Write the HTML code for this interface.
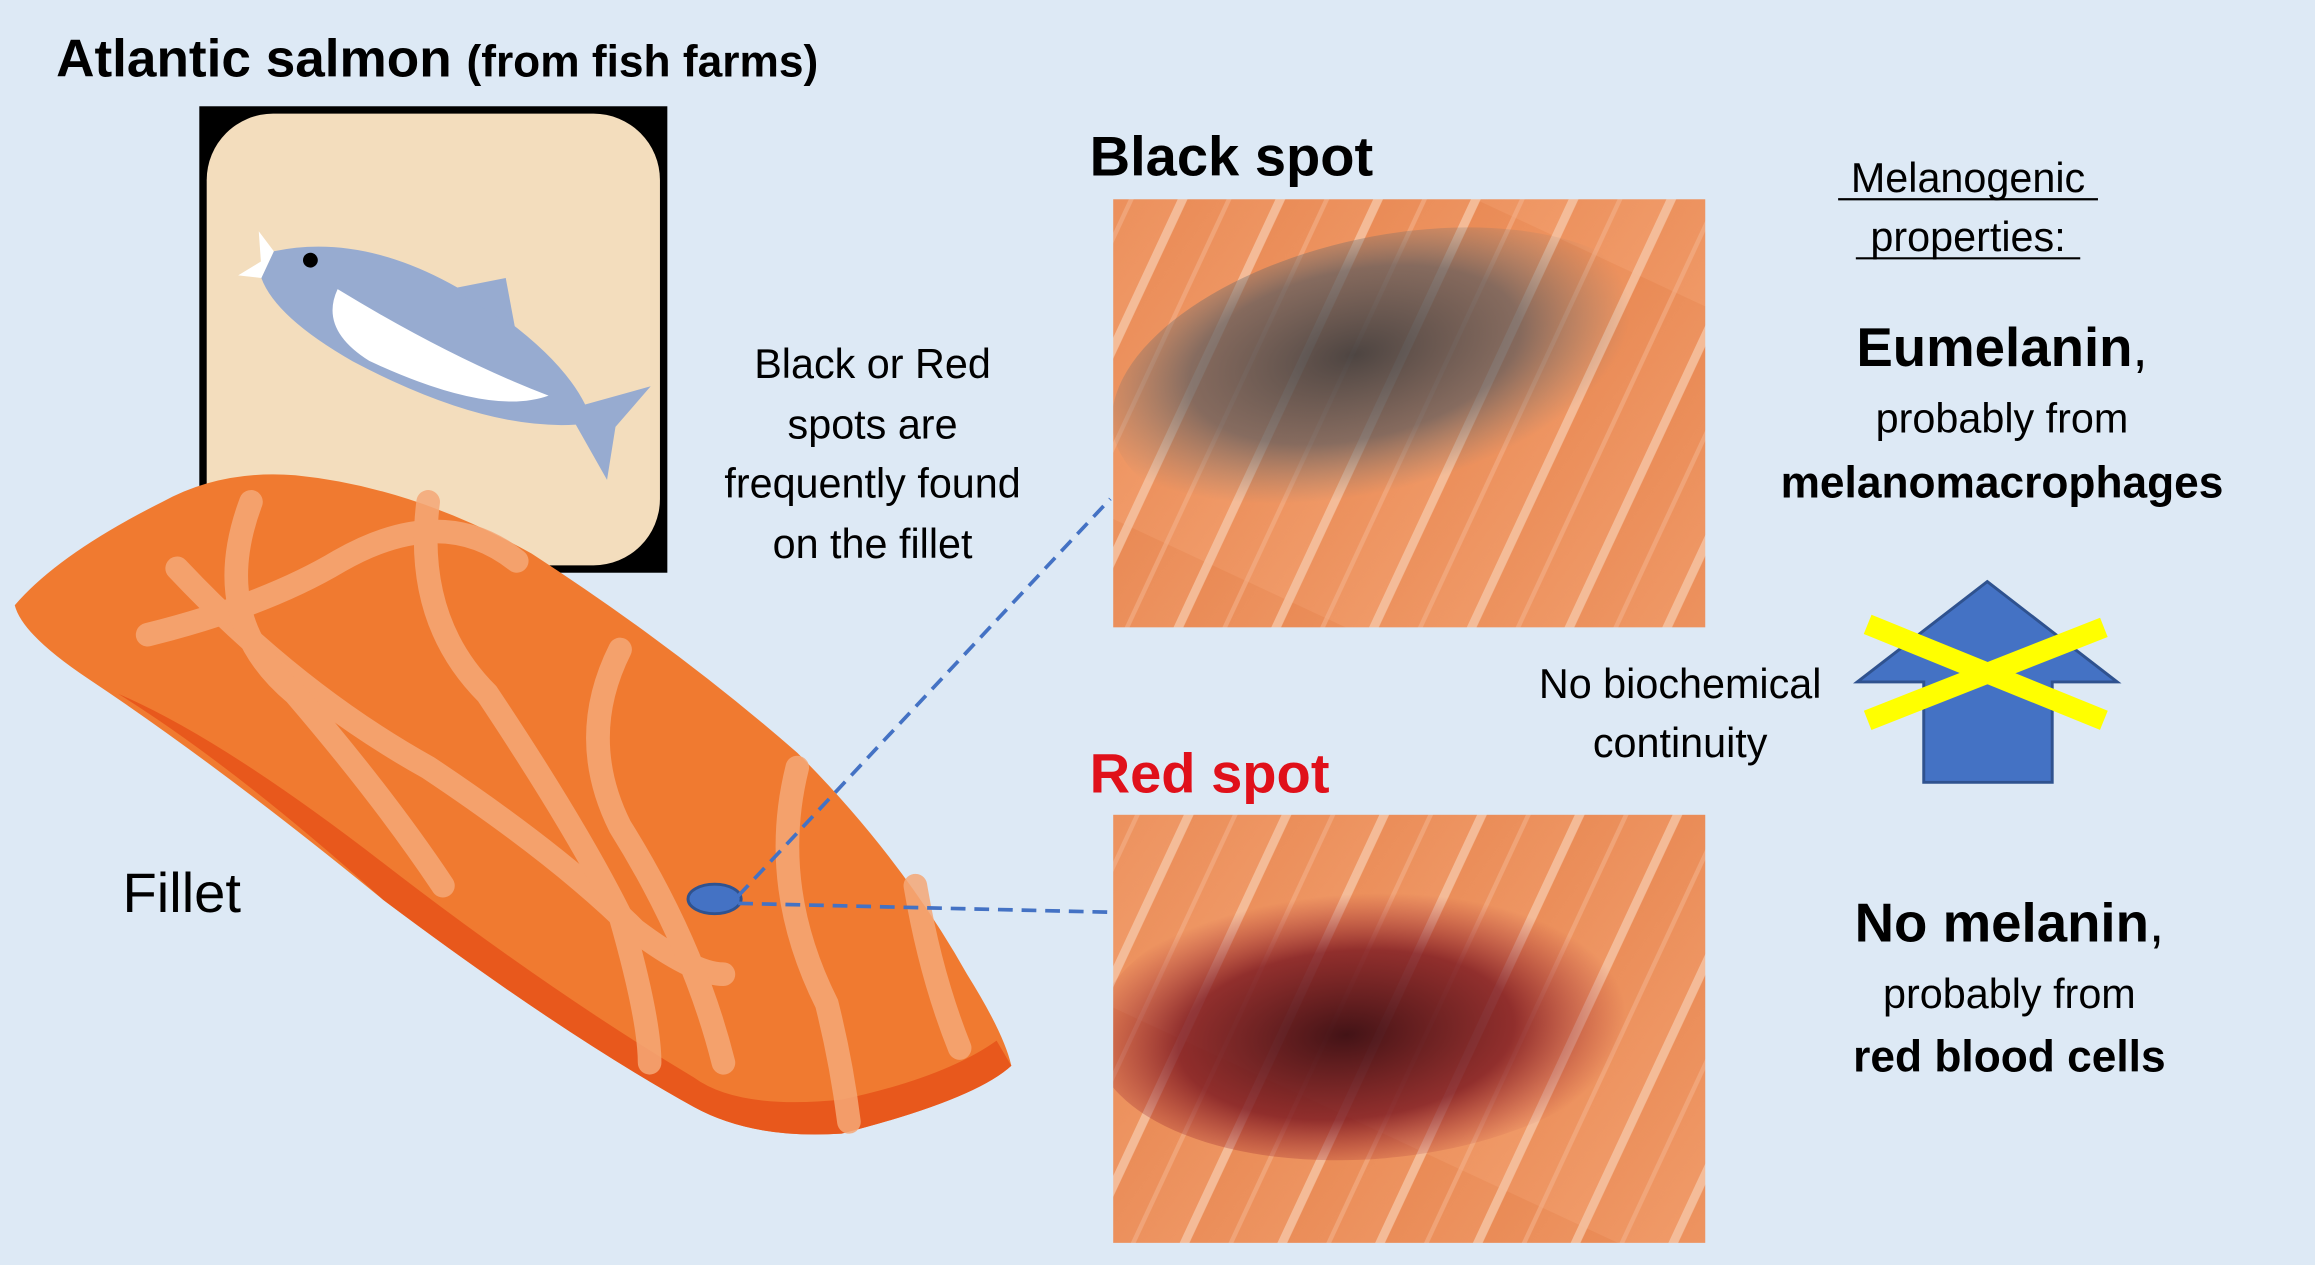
<!DOCTYPE html>
<html><head><meta charset="utf-8"><style>
html,body{margin:0;padding:0;background:#dde9f5;}
svg{display:block;}
text{font-family:"Liberation Sans",sans-serif;}
</style></head><body>
<svg width="2315" height="1265" viewBox="0 0 1568 857" preserveAspectRatio="none" xmlns="http://www.w3.org/2000/svg">
<defs>
<linearGradient id="sal" x1="0" y1="0" x2="1" y2="1">
<stop offset="0" stop-color="#e98a55"/><stop offset="1" stop-color="#f09a68"/></linearGradient>
<pattern id="streak" width="60" height="300" patternUnits="userSpaceOnUse" patternTransform="rotate(25)">
<rect width="60" height="300" fill="url(#sal)"/>
<rect x="0" width="6" height="300" fill="#f6c7a8" opacity="0.8"/>
<rect x="30" width="3" height="300" fill="#f3b08a" opacity="0.6"/>
</pattern>
<radialGradient id="blk" cx="0.45" cy="0.4" r="0.5">
<stop offset="0" stop-color="#3c3c3e" stop-opacity="0.9"/><stop offset="0.6" stop-color="#5a5a5e" stop-opacity="0.7"/><stop offset="1" stop-color="#777" stop-opacity="0"/></radialGradient>
<radialGradient id="red" cx="0.45" cy="0.55" r="0.5">
<stop offset="0" stop-color="#3a0c12" stop-opacity="0.95"/><stop offset="0.6" stop-color="#7a1620" stop-opacity="0.8"/><stop offset="1" stop-color="#a02030" stop-opacity="0"/></radialGradient>
<clipPath id="c1"><rect x="754" y="135" width="401" height="290"/></clipPath>
<clipPath id="c2"><rect x="754" y="552" width="401" height="290"/></clipPath>
</defs>
<rect width="1568" height="857" fill="#dde9f5"/>
<text x="38" y="52" font-size="36" font-weight="bold" fill="#000">Atlantic salmon <tspan font-size="30">(from fish farms)</tspan></text>
<!-- fish icon -->
<rect x="135" y="72" width="317" height="316" fill="#000"/>
<rect x="140" y="77" width="307" height="306" rx="45" fill="#f3ddbd"/>
<g transform="translate(290,230) rotate(25)">
<path d="M-120,-10 Q-60,-55 40,-35 Q90,-25 115,-5 L150,-35 L140,0 L150,35 L115,10 Q60,40 -40,35 Q-100,30 -120,10 Z" fill="#97abd0"/>
<path d="M-70,-5 Q20,5 90,0 Q60,30 -30,30 Q-70,25 -70,-5Z" fill="#fff"/>
<path d="M0,-38 L30,-60 L50,-32Z" fill="#97abd0"/>
<circle cx="-95" cy="-15" r="5" fill="#000"/>
<path d="M-120,-10 L-135,-18 L-125,0 L-135,15 L-120,10Z" fill="#fff"/>
</g>
<!-- fillet -->
<path d="M10,410 Q40,375 110,340 Q150,318 200,322 Q280,330 360,375 Q460,440 540,510 Q610,580 655,660 Q680,700 685,722 Q660,745 570,768 Q510,772 470,750 Q380,700 260,610 Q150,520 60,460 Q15,430 10,410Z" fill="#f07a30"/>
<path d="M80,470 Q160,520 260,610 Q380,700 470,750 Q510,772 570,768 Q660,745 685,722 L675,705 Q640,730 570,745 Q500,752 470,730 Q370,670 260,585 Q150,500 80,470Z" fill="#e8581c"/>
<g stroke="#f5a877" stroke-width="16" fill="none" stroke-linecap="round" opacity="0.85">
<path d="M120,385 Q200,470 290,520 Q380,580 430,630 Q470,660 490,660"/>
<path d="M100,430 Q180,410 230,380 Q300,340 350,380"/>
<path d="M170,340 Q140,420 200,470 Q260,540 300,600"/>
<path d="M290,340 Q280,420 330,470 Q390,560 420,620 Q440,690 440,720"/>
<path d="M420,440 Q390,500 420,560 Q470,640 490,720"/>
<path d="M540,520 Q520,600 560,680 Q570,720 575,760"/>
<path d="M620,600 Q630,660 650,710"/>
</g>
<text x="83" y="618" font-size="38" fill="#000">Fillet</text>
<ellipse cx="484" cy="609" rx="18" ry="10" fill="#4472c4" stroke="#2f528f" stroke-width="2"/>
<g stroke="#4472c4" stroke-width="2.5" stroke-dasharray="10,6" fill="none">
<line x1="500" y1="607" x2="752" y2="338"/>
<line x1="500" y1="612" x2="752" y2="618"/>
</g>
<g font-size="28" text-anchor="middle" fill="#000">
<text x="591" y="256">Black or Red</text>
<text x="591" y="297">spots are</text>
<text x="591" y="337">frequently found</text>
<text x="591" y="378">on the fillet</text>
</g>
<text x="738" y="119" font-size="38" font-weight="bold" fill="#000">Black spot</text>
<rect x="754" y="135" width="401" height="290" fill="url(#streak)"/>
<g clip-path="url(#c1)"><ellipse cx="940" cy="255" rx="190" ry="95" fill="url(#blk)" transform="rotate(-12 940 255)"/></g>
<text x="738" y="537" font-size="38" font-weight="bold" fill="#e0101a">Red spot</text>
<rect x="754" y="552" width="401" height="290" fill="url(#streak)"/>
<g clip-path="url(#c2)"><ellipse cx="930" cy="690" rx="190" ry="95" fill="url(#red)" transform="rotate(-5 930 690)"/></g>
<g font-size="28" text-anchor="middle" fill="#000">
<text x="1333" y="130">Melanogenic</text>
<line x1="1245" y1="135" x2="1421" y2="135" stroke="#000" stroke-width="1.5"/>
<text x="1333" y="170">properties:</text>
<line x1="1257" y1="175" x2="1409" y2="175" stroke="#000" stroke-width="1.5"/>
<text x="1356" y="248" font-size="37"><tspan font-weight="bold">Eumelanin</tspan>,</text>
<text x="1356" y="293">probably from</text>
<text x="1356" y="337" font-weight="bold" font-size="30">melanomacrophages</text>
<text x="1138" y="473">No biochemical</text>
<text x="1138" y="513">continuity</text>
<text x="1361" y="638" font-size="37"><tspan font-weight="bold">No melanin</tspan>,</text>
<text x="1361" y="683">probably from</text>
<text x="1361" y="726" font-weight="bold" font-size="30">red blood cells</text>
</g>
<path d="M1346,394 L1434,462 L1390,462 L1390,530 L1303,530 L1303,462 L1258,462 Z" fill="#4472c4" stroke="#2f528f" stroke-width="2"/>
<g stroke="#ffff00" stroke-width="14" stroke-linecap="butt">
<line x1="1265" y1="488" x2="1425" y2="425"/>
<line x1="1265" y1="423" x2="1425" y2="488"/>
</g>
</svg>
</body></html>
